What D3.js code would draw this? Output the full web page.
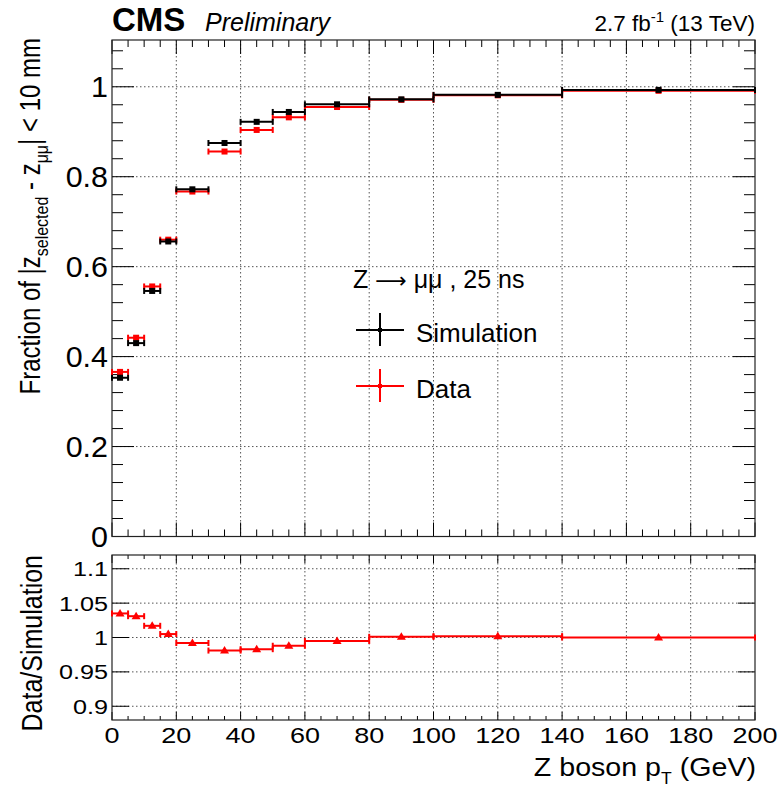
<!DOCTYPE html>
<html><head><meta charset="utf-8">
<script src="https://cdn.jsdelivr.net/npm/d3@7"></script>
<style>body{margin:0;background:#fff}svg{display:block}text{font-family:"Liberation Sans",Arial,sans-serif}</style>
</head><body>
<script>
// Data
const binLo = [0, 5, 10, 15, 20, 30, 40, 50, 60, 80, 100, 140];
const binHi = [5, 10, 15, 20, 30, 40, 50, 60, 80, 100, 140, 200];
const simValues  = [0.353, 0.430, 0.546, 0.656, 0.772, 0.875, 0.922, 0.944, 0.961, 0.972, 0.982, 0.993];
const dataValues = [0.366, 0.442, 0.556, 0.660, 0.767, 0.856, 0.904, 0.932, 0.955, 0.971, 0.981, 0.991];
const ratioValues = [1.035, 1.031, 1.017, 1.005, 0.992, 0.981, 0.983, 0.988, 0.995, 1.001, 1.002, 1.000];
const xTicks = [0, 20, 40, 60, 80, 100, 120, 140, 160, 180, 200];
const yTopTicks = [0, 0.2, 0.4, 0.6, 0.8, 1];
const yBotTicks = [0.9, 0.95, 1, 1.05, 1.1];

const W = 780, H = 787;
const svg = d3.select("body").append("svg").attr("width", W).attr("height", H);

const L = 112, R = 755;
const x = d3.scaleLinear().domain([0, 200]).range([L, R]);
const yT = d3.scaleLinear().domain([0, 1.104]).range([536.5, 40]);
const yB = d3.scaleLinear().domain([0.88, 1.12]).range([720, 555]);

const gridStyle = s => s.attr("stroke", "#555").attr("stroke-width", 1).attr("stroke-dasharray", "1.5,2.5");

function panel(y, yTicks, yMinor, topY, botY, tk) {
  const g = svg.append("g");
  g.selectAll(null).data(xTicks.slice(1, -1)).join("line")
    .attr("x1", d => x(d)).attr("x2", d => x(d)).attr("y1", topY).attr("y2", botY).call(gridStyle);
  g.selectAll(null).data(yTicks).join("line")
    .attr("x1", L).attr("x2", R).attr("y1", d => y(d)).attr("y2", d => y(d)).call(gridStyle);
  const xMinor = d3.range(0, 201, 5).filter(v => v % 20 !== 0);
  const ticks = (vals, len) => {
    g.selectAll(null).data(vals).join("line").attr("x1", d => x(d)).attr("x2", d => x(d))
      .attr("y1", botY).attr("y2", botY - len).attr("stroke", "#000");
    g.selectAll(null).data(vals).join("line").attr("x1", d => x(d)).attr("x2", d => x(d))
      .attr("y1", topY).attr("y2", topY + len).attr("stroke", "#000");
  };
  ticks(xTicks, tk.xMaj); ticks(xMinor, tk.xMin);
  const yticks = (vals, len) => {
    g.selectAll(null).data(vals).join("line").attr("x1", L).attr("x2", L + len)
      .attr("y1", d => y(d)).attr("y2", d => y(d)).attr("stroke", "#000");
    g.selectAll(null).data(vals).join("line").attr("x1", R).attr("x2", R - len)
      .attr("y1", d => y(d)).attr("y2", d => y(d)).attr("stroke", "#000");
  };
  yticks(yTicks, tk.yMaj); if (yMinor.length) yticks(yMinor, tk.yMin);
  g.append("rect").attr("x", L).attr("y", topY).attr("width", R - L).attr("height", botY - topY)
    .attr("fill", "none").attr("stroke", "#222").attr("stroke-width", 1.2);
  g.selectAll(null).data(yTicks).join("text")
    .attr("transform", d => `translate(${L - 4},${y(d)}) scale(${tk.sx},1)`)
    .attr("dy", "0.36em").attr("text-anchor", "end").attr("font-size", tk.fs)
    .text(d => d3.format("~g")(d));
  return g;
}

const minorTop = d3.range(0, 1.1, 0.04).map(v => +v.toFixed(2)).filter(v => Math.abs(v / 0.2 - Math.round(v / 0.2)) > 1e-6);
panel(yT, yTopTicks, minorTop, 40, 536.5, {xMaj: 14, xMin: 7, yMaj: 22, yMin: 11, fs: 29, sx: 1.05});
panel(yB, yBotTicks, [], 555, 720, {xMaj: 8, xMin: 4, yMaj: 17, yMin: 0, fs: 21, sx: 1.2});

// x labels
svg.selectAll(null).data(xTicks).join("text")
  .attr("transform", d => `translate(${x(d)},743) scale(1.2,1)`)
  .attr("text-anchor", "middle").attr("font-size", 22.5).text(d => d);

function drawSeries(vals, y, color, marker) {
  const g = svg.append("g");
  const idx = d3.range(vals.length);
  g.selectAll(null).data(idx).join("line")
    .attr("x1", i => x(binLo[i])).attr("x2", i => x(binHi[i]))
    .attr("y1", i => y(vals[i])).attr("y2", i => y(vals[i]))
    .attr("stroke", color).attr("stroke-width", 2);
  [binLo, binHi].forEach(arr => {
    g.selectAll(null).data(idx).join("line")
      .attr("x1", i => x(arr[i])).attr("x2", i => x(arr[i]))
      .attr("y1", i => y(vals[i]) - 3).attr("y2", i => y(vals[i]) + 3)
      .attr("stroke", color).attr("stroke-width", 2);
  });
  if (marker === "square") {
    g.selectAll(null).data(idx).join("rect")
      .attr("x", i => x((binLo[i] + binHi[i]) / 2) - 3).attr("y", i => y(vals[i]) - 3)
      .attr("width", 6).attr("height", 6).attr("fill", color);
  } else {
    g.selectAll(null).data(idx).join("path")
      .attr("transform", i => `translate(${x((binLo[i] + binHi[i]) / 2)},${y(vals[i])})`)
      .attr("d", "M0,-4.5L4.5,3L-4.5,3Z").attr("fill", color);
  }
}
drawSeries(dataValues, yT, "#ff0000", "square");
drawSeries(simValues, yT, "#000000", "square");
drawSeries(ratioValues, yB, "#ff0000", "triangle");

// legend
const lg = svg.append("g");
const lh = lg.append("text").attr("x", 353).attr("y", 288).attr("font-size", 25);
lh.append("tspan").text("Z ");
lh.append("tspan").attr("font-family", "DejaVu Sans").attr("font-size", 22).text("\u27f6");
lh.append("tspan").text(" \u03bc\u03bc , 25 ns");
[[330, "#000", "Simulation"], [386, "#ff0000", "Data"]].forEach(([cy, c, t]) => {
  lg.append("line").attr("x1", 356).attr("x2", 404).attr("y1", cy).attr("y2", cy).attr("stroke", c).attr("stroke-width", 2);
  lg.append("line").attr("x1", 380).attr("x2", 380).attr("y1", cy - 17).attr("y2", cy + 16).attr("stroke", c).attr("stroke-width", 2);
  lg.append("rect").attr("x", 378).attr("y", cy - 2).attr("width", 4).attr("height", 4).attr("fill", c);
  lg.append("text").attr("x", 416).attr("y", cy + 12).attr("font-size", 26).text(t);
});

// header
svg.append("text").attr("x", 112).attr("y", 31).attr("font-size", 33).attr("font-weight", "bold").text("CMS");
svg.append("text").attr("x", 205).attr("y", 31).attr("font-size", 25).attr("font-style", "italic").text("Preliminary");
const lumi = svg.append("text").attr("x", 755).attr("y", 31).attr("font-size", 22.5).attr("text-anchor", "end");
lumi.append("tspan").text("2.7 fb");
lumi.append("tspan").attr("font-size", 15).attr("dy", -9).text("-1");
lumi.append("tspan").attr("dy", 9).text(" (13 TeV)");

// axis titles
const yt = svg.append("text").attr("transform", "translate(40,38) rotate(-90) scale(1,1.2)").attr("text-anchor", "end").attr("font-size", 24);
yt.append("tspan").text("Fraction of |z");
yt.append("tspan").attr("font-size", 16).attr("dy", 7).text("selected");
yt.append("tspan").attr("dy", -7).text(" - z");
yt.append("tspan").attr("font-size", 16).attr("dy", 7).text("\u03bc\u03bc");
yt.append("tspan").attr("dy", -7).text("| < 10 mm");

svg.append("text").attr("transform", "translate(42,555) rotate(-90) scale(1,1.15)").attr("text-anchor", "end").attr("font-size", 25).text("Data/Simulation");

const xt = svg.append("text").attr("transform", "translate(756,776) scale(1.1,1)").attr("text-anchor", "end").attr("font-size", 26);
xt.append("tspan").text("Z boson p");
xt.append("tspan").attr("font-size", 16).attr("dy", 8).text("T");
xt.append("tspan").attr("dy", -8).text(" (GeV)");
</script>
</body></html>
